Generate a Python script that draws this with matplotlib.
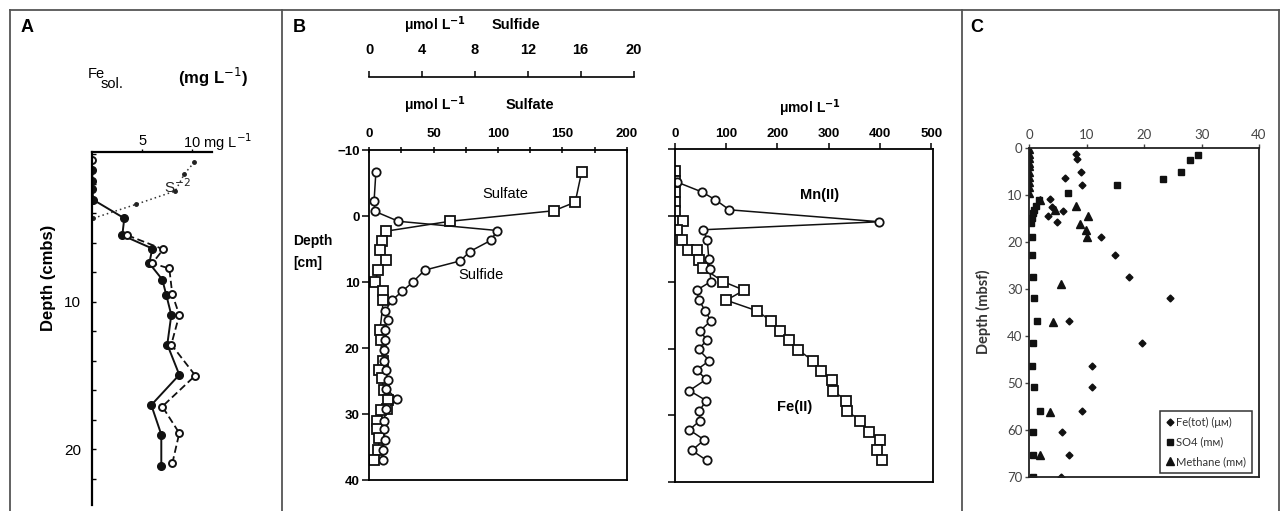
import matplotlib
matplotlib.use("Agg")
import matplotlib.pyplot as plt
from matplotlib.lines import Line2D
from matplotlib.font_manager import FontProperties

W, H = 1281, 511

# ---------------- Panel A data ----------------
A_fill_depth = [1.1, 1.8, 2.4, 3.1, 4.35, 5.5, 6.4, 7.4, 8.5, 9.55, 10.9, 12.9, 14.95, 17.0, 19.0, 21.1]
A_fill_fe = [0, 0, 0, 0.1, 3.2, 3.0, 6.0, 5.7, 7.0, 7.4, 7.9, 7.5, 8.7, 5.9, 6.9, 6.9]
A_open_depth = [0.4, 5.5, 6.45, 7.4, 7.75, 9.5, 10.9, 12.9, 15.0, 17.1, 18.9, 20.95]
A_open_fe = [0, 3.5, 7.1, 6.0, 7.7, 8.0, 8.7, 7.9, 10.3, 7.0, 8.7, 8.0]
A_s_depth = [0.55, 1.35, 2.5, 3.4, 4.35]
A_s_val = [10.2, 9.2, 8.3, 4.4, 0.1]
A_depth_ticks = [0, 2, 4, 6, 8, 10, 12, 14, 16, 18, 20, 22]

# ---------------- Panel B (left) data ----------------
B_so4_depth = [-6.7, -2.1, -0.8, 0.8, 2.3, 3.8, 5.2, 6.6, 8.2, 10.0, 11.3, 12.8, 17.3, 18.8,
               21.9, 23.4, 24.6, 26.4, 27.9, 29.2, 29.4, 31.0, 32.3, 33.6, 35.5, 37.0]
B_so4_val = [165, 160, 143.5, 62.7, 13, 9.6, 8.3, 13.3, 7.0, 4.4, 10.9, 10.9, 8.3, 8.8,
             10.4, 7.8, 9.6, 11.4, 14.8, 13.5, 8.8, 5.7, 5.7, 7.8, 7.0, 3.6]
B_h2s_depth = [-6.7, -2.2, -0.7, 0.8, 2.2, 3.7, 5.4, 6.8, 8.2, 10.0, 11.4, 12.8, 14.4, 15.8,
               17.3, 18.8, 20.3, 21.9, 23.4, 24.8, 26.2, 27.8, 29.3, 31.0, 32.3, 34.0, 35.4, 36.9]
B_h2s_val = [0.5, 0.36, 0.43, 2.2, 9.7, 9.2, 7.6, 6.9, 4.2, 3.3, 2.5, 1.7, 1.2, 1.4,
             1.2, 1.2, 1.1, 1.1, 1.3, 1.4, 1.3, 2.1, 1.3, 1.1, 1.1, 1.2, 1.0, 1.0]
B_so4_ticks = [0, 50, 100, 150, 200]
B_h2s_ticks = [0, 4, 8, 12, 16, 20]
B_depth_ticks = [-10, 0, 10, 20, 30, 40]

# ---------------- Panel B (right) data ----------------
B_mn_depth = [-5.1, -3.6, -2.4, -0.9, 0.9, 2.1, 3.6, 6.5, 8.0, 9.9, 11.2, 12.7, 14.3, 15.8,
              17.3, 18.7, 20.1, 21.8, 23.2, 24.6, 26.3, 27.8, 29.4, 30.8, 32.2, 33.7, 35.3, 36.8]
B_mn_val = [3, 52, 79, 106, 399, 55, 63, 66, 68, 70, 42, 47, 59, 70,
            49, 62, 46, 67, 42, 61, 28, 61, 47, 49, 28, 57, 33, 62]
B_fe_depth = [-6.7, -5.2, -3.6, -2.1, -0.7, 0.8, 2.1, 3.6, 5.1, 5.2, 6.6, 7.9, 9.9, 11.2,
              12.7, 14.3, 15.8, 17.3, 18.7, 20.2, 21.8, 23.3, 24.7, 26.3, 27.8, 29.3, 30.8,
              32.5, 33.7, 35.3, 36.8]
B_fe_val = [0, 0, 0, 0, 0, 16, 3, 14, 26, 42, 46, 55, 94, 135,
            100, 160, 187, 205, 223, 241, 269, 284, 306, 308, 334, 335, 361,
            378, 400, 395, 405]
B_umol_ticks = [0, 100, 200, 300, 400, 500]

# ---------------- Panel C data ----------------
C_fe_depth = [1.3, 2.5, 5.1, 6.5, 7.9, 11.0, 12.7, 13.4, 14.5, 15.9, 18.9, 22.8, 27.6, 32.0,
              36.9, 41.5, 46.4, 50.9, 56.0, 60.4, 65.4, 70.0]
C_fe_val = [8.1, 8.3, 9.0, 6.2, 9.2, 3.6, 4.0, 5.9, 3.2, 4.9, 12.4, 14.9, 17.4, 24.5,
            7.0, 19.7, 11.0, 11.0, 9.1, 5.7, 7.0, 5.5]
C_so4_depth = [1.6, 2.6, 5.1, 6.7, 7.9, 9.6, 11.1, 12.4, 13.3, 13.9, 15.0, 16.0, 19.1, 22.8,
               27.6, 32.0, 36.9, 41.5, 46.4, 50.9, 56.0, 60.4, 65.4, 70.0]
C_so4_val = [29.3, 28.0, 26.5, 23.3, 15.2, 6.8, 1.7, 1.2, 0.9, 0.7, 0.4, 0.3, 0.4, 0.4,
             0.6, 0.8, 1.3, 0.6, 0.4, 0.9, 1.9, 0.6, 0.6, 0.6]
C_ch4_depth = [0.3, 1.3, 2.2, 3.2, 4.0, 5.1, 6.2, 7.4, 8.3, 9.7, 11.1, 12.5, 13.3, 14.5,
               16.2, 17.5, 19.1, 29.1, 37.0, 56.2, 65.4]
C_ch4_val = [0, 0, 0, 0, 0, 0, 0, 0, 0, 0, 1.9, 8.1, 4.5, 10.3,
             8.8, 9.8, 10.1, 5.6, 4.2, 3.6, 1.9]
C_x_ticks = [0, 10, 20, 30, 40]
C_y_ticks = [0, 10, 20, 30, 40, 50, 60, 70]
C_labels = ["Fe(tot) (\u03bc\u1d0d)", "SO4 (m\u1d0d)", "Methane (m\u1d0d)"]

# ---------------- Figure ----------------
fig = plt.figure(figsize=(W / 100, H / 100), dpi=100)


def rect(x0, y0, x1, y1):
    return [x0 / W, 1 - y1 / H, (x1 - x0) / W, (y1 - y0) / H]


def fx(x):
    return x / W


def fy(y):
    return 1 - y / H


# frame lines
bc = "#555555"
fig.add_artist(Line2D([fx(10), fx(1279)], [fy(10), fy(10)], color=bc, lw=1.3))
for xx in [10, 281.7, 961.7, 1279]:
    fig.add_artist(Line2D([fx(xx), fx(xx)], [fy(10), fy(511)], color=bc, lw=1.3))

HB = ["Liberation Sans", "DejaVu Sans"]
NAR = ["Liberation Sans Narrow", "Liberation Sans", "DejaVu Sans"]
CAL = ["Lato", "DejaVu Sans"]

for lab, x in [("A", 27), ("B", 299), ("C", 977)]:
    fig.text(fx(x), fy(27), lab, family=HB, weight="bold", fontsize=13, ha="center", va="center")

# ---------------- Panel A ----------------
axA = fig.add_axes(rect(92.3, 152, 211.7, 505))
axA.set_xlim(0, 11.94)
axA.set_ylim(23.77, -0.14)
for s in ["right", "bottom"]:
    axA.spines[s].set_visible(False)
for s in ["left", "top"]:
    axA.spines[s].set_linewidth(1.6)
axA.plot(A_s_val, A_s_depth, ls=(0, (1, 2)), color="#333", lw=1.1, marker="o", ms=2.5,
         mfc="#222", mec="#222")
axA.plot(A_fill_fe, A_fill_depth, "-", color="#111", lw=1.4, marker="o", ms=5.5,
         mfc="#111", mec="#111")
axA.plot(A_open_fe[1:], A_open_depth[1:], ls=(0, (4, 2)), color="#111", lw=1.3)
axA.plot(A_open_fe, A_open_depth, ls="none", marker="o", ms=5, mfc="white", mec="#111", mew=1.4)
axA.set_yticks(A_depth_ticks)
axA.set_yticklabels(["" if t not in (10, 20) else str(t) for t in A_depth_ticks])
axA.tick_params(axis="y", direction="in", length=3, width=1, pad=8, labelsize=11)
axA.xaxis.set_ticks_position("top")
axA.set_xticks([5, 10])
axA.set_xticklabels(["5", ""])
axA.tick_params(axis="x", direction="out", length=2, width=1, pad=1, labelsize=10.5)
for t in axA.get_xticklabels() + axA.get_yticklabels():
    t.set_family(NAR)
fig.text(fx(183), fy(142), "10 mg L$^{-1}$", family=NAR, fontsize=10.5, ha="left", va="center")
axA.text(7.2, 2.2, "S$^{-2}$", fontsize=11, family=NAR, color="#222", va="center")
fig.text(fx(48), fy(278), "Depth (cmbs)", rotation=90, family=NAR, weight="bold",
         fontsize=12, ha="center", va="center")
fig.text(fx(88), fy(74), "Fe", family=NAR, fontsize=10.5, ha="left", va="center")
fig.text(fx(101), fy(84), "sol.", family=NAR, fontsize=10.5, ha="left", va="center")
fig.text(fx(178), fy(77), "(mg L$^{-1}$)", family=HB, weight="bold", fontsize=12,
         ha="left", va="center")

# ---------------- Panel B left ----------------
axB = fig.add_axes(rect(369.3, 150, 626.7, 480))
axB.set_xlim(0, 200)
axB.set_ylim(40, -10)
for s in axB.spines.values():
    s.set_linewidth(1.3)
axB.plot(B_so4_val, B_so4_depth, "-", color="#111", lw=1.1, marker="s", ms=6.5,
         mfc="white", mec="#111", mew=1.3)
axBs = axB.twiny()
axBs.set_xlim(0, (626.7 - 369.3) / 13.2)
axBs.set_ylim(40, -10)
axBs.axis("off")
axBs.plot(B_h2s_val, B_h2s_depth, "-", color="#111", lw=1.1, marker="o", ms=6,
          mfc="white", mec="#111", mew=1.3)
axB.xaxis.set_ticks_position("top")
axB.set_xticks(B_so4_ticks)
axB.set_xticks([25, 75, 125, 175], minor=True)
axB.tick_params(axis="x", which="both", direction="inout", length=5, width=1.1, pad=5, labelsize=9.5)
axB.set_yticks(B_depth_ticks)
axB.tick_params(axis="y", direction="out", length=5, width=1.1, pad=2, labelsize=9.5)
for t in axB.get_xticklabels() + axB.get_yticklabels():
    t.set_family(HB)
    t.set_weight("bold")
axB.text(105.4, -3.4, "Sulfate", family=HB, fontsize=10.5, ha="center", va="center")
axB.text(86.8, 9.0, "Sulfide", family=HB, fontsize=10.5, ha="center", va="center")
fig.text(fx(293), fy(241), "Depth", family=HB, weight="bold", fontsize=10, ha="left", va="center")
fig.text(fx(293), fy(263), "[cm]", family=HB, weight="bold", fontsize=10, ha="left", va="center")

# sulfide scale bar
axS = fig.add_axes(rect(369.3, 58, 633.5, 76.7))
axS.set_xlim(0, 20)
axS.set_ylim(0, 1)
for s in ["top", "left", "right"]:
    axS.spines[s].set_visible(False)
axS.spines["bottom"].set_linewidth(1.2)
axS.set_yticks([])
axS.set_xticks(B_h2s_ticks)
axS.tick_params(axis="x", bottom=True, top=False, direction="in", length=4, width=1.1,
                labelbottom=False, labeltop=True, pad=1, labelsize=10.5)
for t in axS.get_xticklabels():
    t.set_family(NAR)
    t.set_weight("bold")
axS.patch.set_alpha(0)

fig.text(fx(435), fy(25), "\u03bcmol L$^{\\mathbf{-1}}$", family=HB, weight="bold", fontsize=10,
         ha="center", va="center")
fig.text(fx(516), fy(25), "Sulfide", family=HB, weight="bold", fontsize=10.5, ha="center", va="center")
fig.text(fx(435), fy(105), "\u03bcmol L$^{\\mathbf{-1}}$", family=HB, weight="bold", fontsize=10,
         ha="center", va="center")
fig.text(fx(530), fy(105), "Sulfate", family=HB, weight="bold", fontsize=10.5, ha="center", va="center")

# ---------------- Panel B right ----------------
axR = fig.add_axes(rect(675, 149.3, 932.7, 481.7))
axR.set_xlim(0, 503)
axR.set_ylim(40, -10)
for s in axR.spines.values():
    s.set_linewidth(1.3)
axR.plot(B_fe_val, B_fe_depth, "-", color="#111", lw=1.1, marker="s", ms=6.5,
         mfc="white", mec="#111", mew=1.3)
axR.plot(B_mn_val, B_mn_depth, "-", color="#111", lw=1.1, marker="o", ms=6,
         mfc="white", mec="#111", mew=1.3)
axR.xaxis.set_ticks_position("top")
axR.set_xticks(B_umol_ticks)
axR.tick_params(axis="x", direction="out", length=4, width=1.1, pad=3, labelsize=9.5)
axR.set_yticks(B_depth_ticks)
axR.set_yticklabels([])
axR.tick_params(axis="y", direction="out", length=5, width=1.1)
for t in axR.get_xticklabels():
    t.set_family(HB)
    t.set_weight("bold")
axR.text(282, -3.1, "Mn(II)", family=HB, weight="bold", fontsize=10.5, ha="center", va="center")
axR.text(234, 28.7, "Fe(II)", family=HB, weight="bold", fontsize=10.5, ha="center", va="center")
fig.text(fx(810), fy(108), "\u03bcmol L$^{\\mathbf{-1}}$", family=HB, weight="bold", fontsize=10,
         ha="center", va="center")

# ---------------- Panel C ----------------
axC = fig.add_axes(rect(1029.3, 147.7, 1259, 476.7))
axC.set_xlim(0, 40)
axC.set_ylim(70, 0)
for s in axC.spines.values():
    s.set_linewidth(1.3)
    s.set_color("#222")
axC.plot(C_fe_val, C_fe_depth, ls="none", marker="D", ms=3.5, color="#111", label=C_labels[0])
axC.plot(C_so4_val, C_so4_depth, ls="none", marker="s", ms=5, color="#111", label=C_labels[1])
axC.plot(C_ch4_val, C_ch4_depth, ls="none", marker="^", ms=6, color="#111", label=C_labels[2])
axC.xaxis.set_ticks_position("top")
axC.set_xticks(C_x_ticks)
axC.set_yticks(C_y_ticks)
axC.tick_params(axis="both", direction="out", length=3, width=1, labelsize=9.5, colors="#444", pad=2)
for t in axC.get_xticklabels() + axC.get_yticklabels():
    t.set_family(CAL)
fig.text(fx(983), fy(312), "Depth (mbsf)", rotation=90, family=CAL, weight="bold", fontsize=10.5,
         color="#333", ha="center", va="center")
leg = axC.legend(loc="lower right", bbox_to_anchor=(0.97, 0.011), borderaxespad=0,
                 fancybox=False, framealpha=1, edgecolor="#333", handlelength=0.6,
                 handletextpad=0.25, labelspacing=0.75, borderpad=0.55,
                 prop=FontProperties(family=CAL, size=8))
leg.get_frame().set_linewidth(1.1)
for t in leg.get_texts():
    t.set_color("#333")

fig.savefig("out.png", dpi=100)
